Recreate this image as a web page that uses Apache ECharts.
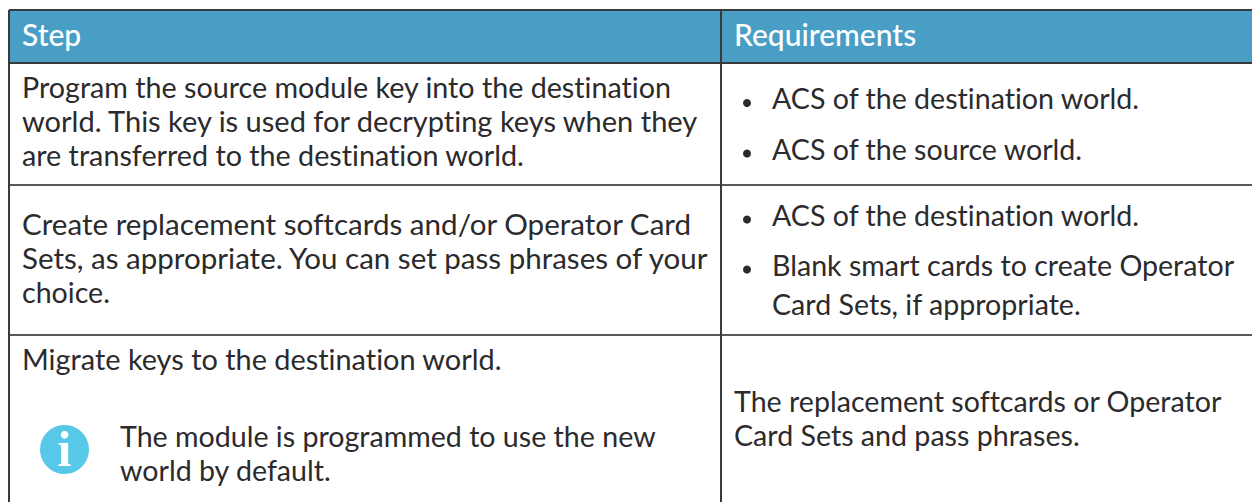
<!DOCTYPE html>
<html>
<head>
<meta charset="utf-8">
<title>Step / Requirements</title>
<script src="https://cdn.jsdelivr.net/npm/echarts@6/dist/echarts.min.js"></script>
<style>
  html, body { margin: 0; padding: 0; background: #ffffff; }
  #chart { width: 1252px; height: 502px; }
  /* no "ti" ligature, the reference font has none. zrender writes an inline font, hence !important */
  #chart text { font-variant-ligatures: none !important; }
</style>
</head>
<body>
<div id="chart"></div>
<script>
// table content
const headers = ["Step", "Requirements"];
const stepLines = [
  ["Program the source module key into the destination", "world. This key is used for decrypting keys when they", "are transferred to the destination world."],
  ["Create replacement softcards and/or Operator Card", "Sets, as appropriate. You can set pass phrases of your", "choice."],
  ["Migrate keys to the destination world."],
];
const noteLines = ["The module is programmed to use the new", "world by default."];
const reqLines = [
  [["ACS of the destination world."], ["ACS of the source world."]],
  [["ACS of the destination world."], ["Blank smart cards to create Operator", "Card Sets, if appropriate."]],
];
const reqPlainLines = ["The replacement softcards or Operator", "Card Sets and pass phrases."];

// layout
const W = 1252, H = 502;
const LEFT = 9, TOP = 10, HEADER_BOTTOM = 63, COL = 721;
const ROW_BOTTOMS = [185, 335];
const FONT = "Lato";
const BODY_SIZE = 28.6, HEAD_SIZE = 30;
const LINE = 34;
const STEP_X = 22, REQ_X = 734, BULLET_X = 747, BULLET_TEXT_X = 772, NOTE_X = 120;
const STEP_Y = [87, 223.5, 359];
// Lato runs narrower than the original font on some lines
const STEP_STRETCH = [[1.003, 1.015, 1.004], [1.035, 1.033, 1], [1.01]];
const REQ_Y = [[98, 148.5], [214.5, 264.5]];
const REQ_LINE = 39.5;
const REQ_PLAIN_Y = 401;
const NOTE_Y = 435.5;
const BORDER = "#3a3a3c", TEXT = "#2b2a2c";

function label(str, x, y, size, color, weight, stretch) {
  return {
    type: "text", x, y, scaleX: stretch || 1, silent: true,
    style: { text: str, fill: color || TEXT, font: `${weight || "normal"} ${size}px ${FONT}`, textAlign: "left", textVerticalAlign: "middle" },
  };
}
function rule(x1, y1, x2, y2, width, color) {
  return { type: "line", silent: true, shape: { x1, y1, x2, y2 }, style: { stroke: color || BORDER, lineWidth: width } };
}

const els = [];
els.push({ type: "rect", silent: true, shape: { x: LEFT, y: TOP, width: W - LEFT, height: HEADER_BOTTOM - TOP }, style: { fill: "#499ec6" } });

els.push(label(headers[0], STEP_X, 34, HEAD_SIZE, "#ffffff", 500));
els.push(label(headers[1], REQ_X, 34, HEAD_SIZE, "#ffffff", 500));

stepLines.forEach((lines, r) => {
  lines.forEach((s, i) => els.push(label(s, STEP_X, STEP_Y[r] + i * LINE, BODY_SIZE, TEXT, "normal", STEP_STRETCH[r][i])));
});
noteLines.forEach((s, i) => els.push(label(s, NOTE_X, NOTE_Y + i * LINE, BODY_SIZE)));

reqLines.forEach((items, r) => {
  items.forEach((lines, k) => {
    const y = REQ_Y[r][k];
    els.push({ type: "circle", silent: true, shape: { cx: BULLET_X, cy: y + 5, r: 4 }, style: { fill: TEXT } });
    lines.forEach((s, i) => els.push(label(s, BULLET_TEXT_X, y + i * REQ_LINE, BODY_SIZE)));
  });
});
reqPlainLines.forEach((s, i) => els.push(label(s, REQ_X, REQ_PLAIN_Y + i * LINE, BODY_SIZE)));

// info icon
els.push({ type: "circle", silent: true, shape: { cx: 64.5, cy: 449.5, r: 24.5 }, style: { fill: "#57c8e8" } });
els.push({
  type: "text", x: 64.5, y: 449, silent: true,
  style: { text: "i", fill: "#ffffff", font: "bold 50px 'Liberation Serif'", textAlign: "center", textVerticalAlign: "middle" },
});

// grid lines
els.push(rule(LEFT, TOP, W, TOP, 2));
els.push(rule(LEFT, HEADER_BOTTOM, W, HEADER_BOTTOM, 2));
ROW_BOTTOMS.forEach((y) => els.push(rule(LEFT, y, W, y, 2, "#59595b")));
els.push(rule(LEFT, TOP, LEFT, H, 2));
els.push(rule(COL, TOP, COL, H, 2));

const chart = echarts.init(document.getElementById("chart"), null, { renderer: "svg", width: W, height: H });
chart.setOption({ animation: false, backgroundColor: "#ffffff", graphic: { elements: els } });
</script>
</body>
</html>
